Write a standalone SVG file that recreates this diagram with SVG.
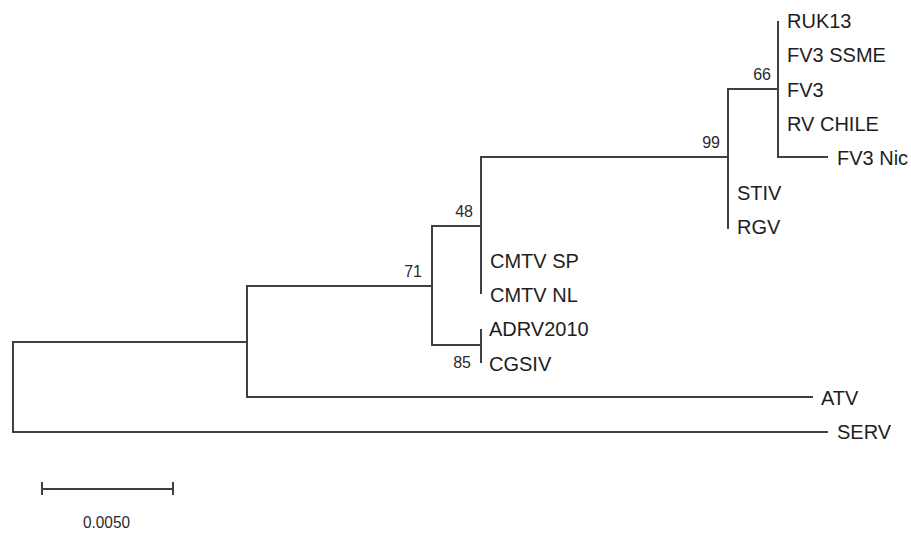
<svg xmlns="http://www.w3.org/2000/svg" width="911" height="533" viewBox="0 0 911 533">
<style>
.br{fill:none;stroke:#404040;stroke-width:2;stroke-linecap:square}
.lb{font-family:"Liberation Sans",Arial,sans-serif;font-size:20px;fill:#1e1e1e}
.bs{font-family:"Liberation Sans",Arial,sans-serif;font-size:16px;fill:#2a2a2a;text-anchor:end}
.sc{font-family:"Liberation Sans",Arial,sans-serif;font-size:16px;fill:#2a2a2a}
</style>
<rect width="911" height="533" fill="#ffffff"/>
<g id="connectors">
<path class="br" d="M778,22 V157 H827"/>
<path class="br" d="M728,89 H778"/>
<path class="br" d="M728,89 V228"/>
<path class="br" d="M481,157 H728"/>
<path class="br" d="M481,157 V293"/>
<path class="br" d="M432,226 H481"/>
<path class="br" d="M481,330 V362"/>
<path class="br" d="M432,345 H481"/>
<path class="br" d="M432,226 V345"/>
<path class="br" d="M247,286 H432"/>
<path class="br" d="M247,286 V397 H812"/>
<path class="br" d="M13,342 H247"/>
<path class="br" d="M13,342 V432 H827"/>
</g>
<g id="leaf-RUK13"><text class="lb" x="787" y="28">RUK13</text></g>
<g id="leaf-FV3SSME"><text class="lb" x="787" y="62">FV3 SSME</text></g>
<g id="leaf-FV3"><text class="lb" x="787" y="96.5">FV3</text></g>
<g id="leaf-RVCHILE"><text class="lb" x="787" y="131">RV CHILE</text></g>
<g id="leaf-FV3Nic"><text class="lb" x="837" y="165">FV3 Nic</text></g>
<g id="leaf-STIV"><text class="lb" x="737" y="199.5">STIV</text></g>
<g id="leaf-RGV"><text class="lb" x="737" y="233.5">RGV</text></g>
<g id="leaf-CMTVSP"><text class="lb" x="490" y="268">CMTV SP</text></g>
<g id="leaf-CMTVNL"><text class="lb" x="490" y="302">CMTV NL</text></g>
<g id="leaf-ADRV2010"><text class="lb" x="489" y="336">ADRV2010</text></g>
<g id="leaf-CGSIV"><text class="lb" x="489" y="370.5">CGSIV</text></g>
<g id="leaf-ATV"><text class="lb" x="821" y="404.5">ATV</text></g>
<g id="leaf-SERV"><text class="lb" x="837" y="439">SERV</text></g>
<g id="node-66"><text class="bs" x="771" y="80">66</text></g>
<g id="node-99"><text class="bs" x="720" y="148">99</text></g>
<g id="node-48"><text class="bs" x="473" y="217">48</text></g>
<g id="node-71"><text class="bs" x="422" y="277">71</text></g>
<g id="node-85"><text class="bs" x="471" y="368">85</text></g>
<g id="scale-bar">
<path class="br" d="M42,489 H173 M42,483 V494 M173,483 V494"/>
<text class="sc" x="83" y="528" textLength="47" lengthAdjust="spacingAndGlyphs">0.0050</text>
</g>
</svg>
